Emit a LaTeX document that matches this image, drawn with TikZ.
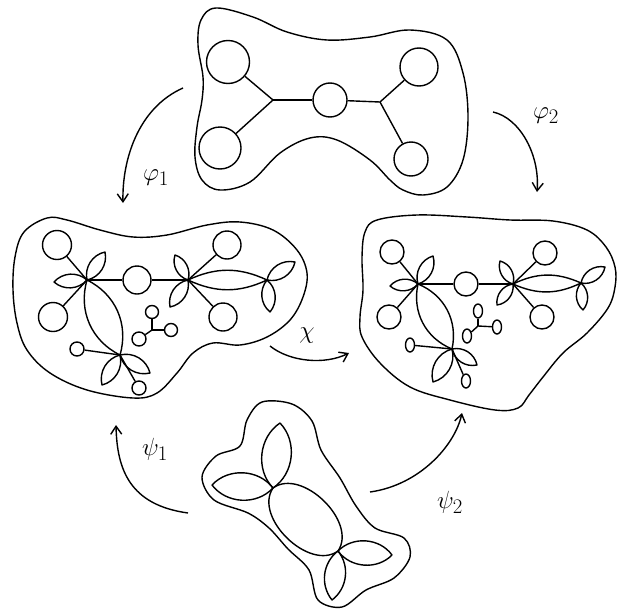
\documentclass[tikz,border=0pt]{standalone}
\usetikzlibrary{arrows.meta,shapes.geometric}
\tikzset{
  vtx/.style={circle, draw, inner sep=0pt},
  egg/.style={ellipse, draw, inner sep=0pt, minimum width=9pt, minimum height=14pt},
  map/.style={-{Straight Barb[length=8pt,width=11pt]}},
  lbl/.style={font=\fontsize{28}{30}\selectfont}
}
\begin{document}
\begin{tikzpicture}[x=1pt, y=-1pt, line width=1.4pt, line join=round]
\useasboundingbox (0,0) rectangle (617,610);

% the four regions
\draw plot[smooth cycle, tension=0.6] coordinates {
  (216,8) (253,17) (287,32) (327,40) (370,37) (410,30) (447,40) (463,73)
  (468,117) (463,160) (447,187) (423,195) (403,190) (390,180) (370,160)
  (337,140) (310,138) (280,153) (250,182) (220,190) (202,180) (195,157)
  (197,127) (202,100) (203,77) (198,45) (201,20)};
\draw plot[smooth cycle, tension=0.6] coordinates {
  (47,218) (67,220) (100,230) (133,237) (167,235) (207,225) (240,222)
  (273,230) (297,250) (307,273) (303,297) (290,320) (267,337) (240,345)
  (213,343) (193,353) (177,373) (157,393) (133,398) (87,390) (50,373)
  (27,350) (17,323) (13,290) (15,257) (24,232)};
\draw plot[smooth cycle, tension=0.6] coordinates {
  (377,220) (417,215) (467,217) (510,220) (553,221) (587,230) (606,247)
  (615,267) (615,287) (608,308) (587,333) (563,353) (543,377) (529,395)
  (518,408) (495,410) (450,400) (410,387) (380,363) (362,337) (360,317)
  (363,290) (362,257) (365,232)};
\draw plot[smooth cycle, tension=0.55] coordinates {
  (262,402) (292,404) (312,421) (321,450) (340,478) (356,506) (375,528)
  (404,538) (410,557) (394,578) (366,590) (342,607) (318,600) (309,570)
  (288,549) (269,528) (248,513) (214,500) (202,477) (216,456) (240,446)
  (247,420)};

% vertices
\foreach \n/\x/\y/\d in {
    tUL/228/62/43, tLL/220/148/42, tM/330/100/34, tUR/419/67/38, tLR/411/159/34,
    lUL/57/245/29, lL/53/317/29, lM/137/280/28, lUR/227/245/28, lR/223/317/28,
    lsa/77/349/14, lsb/139/388/14, lt1/152/312/13, lt2/171/330/13, lt3/139/339/14,
    rUL/392/252/24, rL/389/317/24, rM/466/284/24, rUR/545/253/24, rR/542/317/24} {
    \node[vtx, minimum size=\d pt] (\n) at (\x,\y) {};
  }
\foreach \n/\x/\y in {rsa/410/345, rsb/466/381, rt1/478/311, rt2/497/327, rt3/467/336}
  \node[egg] (\n) at (\x,\y) {};

% branch points
\foreach \n/\x/\y in {
    tJ1/273/100, tJ2/380/102,
    lA/87/280, lB/188/280, lC/267/280, lD/120/355, lT/152/330,
    rA/418/284, rB/513/284, rC/581/283, rD/452/349, rT/478/326,
    bJ1/273/488, bJ2/338/551}
  \coordinate (\n) at (\x,\y);

% edges
\foreach \a/\b in {
    tJ1/tUL, tJ1/tLL, tJ1/tM, tM/tJ2, tJ2/tUR, tJ2/tLR,
    lA/lUL, lA/lL, lA/lM, lM/lB, lB/lUR, lB/lR, lD/lsa, lD/lsb, lT/lt1, lT/lt2, lT/lt3,
    rA/rUL, rA/rL, rA/rM, rM/rB, rB/rUR, rB/rR, rD/rsa, rD/rsb, rT/rt1, rT/rt2, rT/rt3}
  \draw (\a) -- (\b);

% loops
\foreach \a/\c/\b in {lA/lD/40, lB/lC/25, rA/rD/40, rB/rC/25, bJ1/bJ2/80}
  \draw (\a) to[bend left=\b] (\c) to[bend left=\b] (\a);
\foreach \j/\x/\y/\b in {
    lA/105/252/45, lA/54/282/45, lB/175/255/45, lB/170/307/45,
    lC/295/262/45, lC/270/312/45, lD/102/385/45, lD/150/373/45,
    rA/433/256/45, rA/390/286/45, rB/500/261/45, rB/497/305/45,
    rC/605/267/45, rC/583/310/45, rD/433/382/45, rD/477/365/45,
    bJ1/280/423/50, bJ1/212/485/50, bJ2/392/555/50, bJ2/332/600/46}
  \draw (\j) to[bend left=\b] (\x,\y) to[bend left=\b] (\j);

% maps
\coordinate (f1a) at (183,88);  \coordinate (f1b) at (123,203);
\coordinate (f2a) at (493,112); \coordinate (f2b) at (537,192);
\coordinate (s1a) at (188,513); \coordinate (s1b) at (116,425);
\coordinate (s2a) at (370,492); \coordinate (s2b) at (462,413);
\coordinate (xa) at (270,346);  \coordinate (xb) at (349,353);
\draw[map] (f1a) .. controls (138,108) and (122,160) .. (f1b);
\draw[map] (f2a) .. controls (520,118) and (540,155) .. (f2b);
\draw[map] (s1a) .. controls (130,505) and (117,470) .. (s1b);
\draw[map] (s2a) .. controls (420,485) and (455,445) .. (s2b);
\draw[map] (xa) .. controls (290,362) and (325,365) .. (xb);

\node[lbl] (phi1) at (156,178) {$\varphi_1$};
\node[lbl] (phi2) at (546,116) {$\varphi_2$};
\node[lbl] (psi1) at (155,449) {$\psi_1$};
\node[lbl] (psi2) at (450,502) {$\psi_2$};
\node[lbl] (chi) at (307,336) {$\chi$};
\end{tikzpicture}
\end{document}
